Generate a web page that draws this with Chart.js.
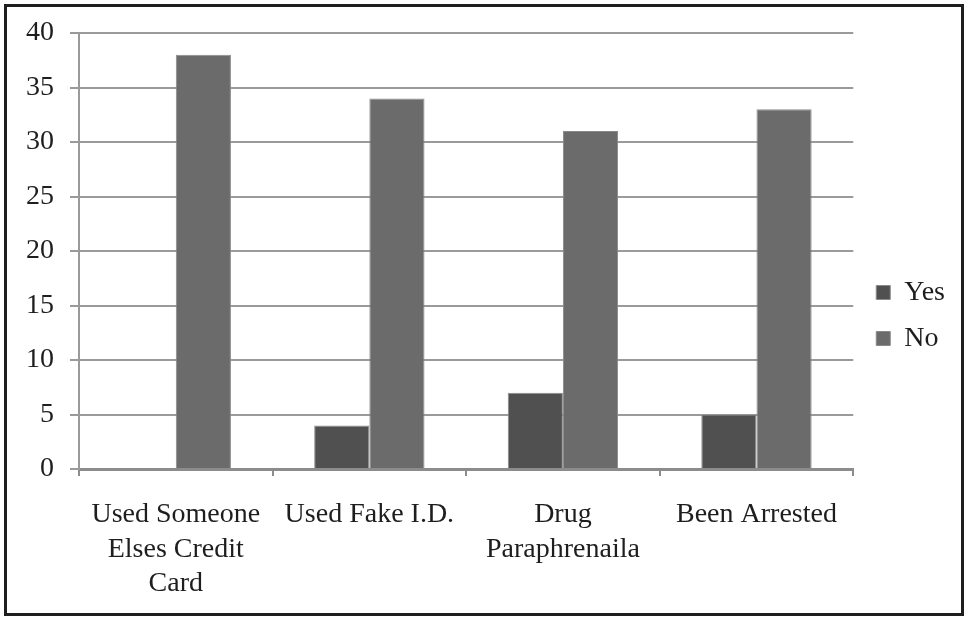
<!DOCTYPE html>
<html>
<head>
<meta charset="utf-8">
<script src="https://cdn.jsdelivr.net/npm/chart.js@4/dist/chart.umd.min.js"></script>
<style>
  html, body { margin: 0; padding: 0; background: #fff; }
  #wrap { position: relative; width: 968px; height: 618px; }
</style>
</head>
<body>
<div id="wrap"><canvas id="c" width="968" height="618"></canvas></div>
<script>
const categories = [
  ['Used Someone', 'Elses Credit', 'Card'],
  'Used Fake I.D.',
  ['Drug', 'Paraphrenaila'],
  'Been Arrested'
];
const seriesNames = ['Yes', 'No'];
const yesValues = [0, 4, 7, 5];
const noValues = [38, 34, 31, 33];
const yTicks = [0, 5, 10, 15, 20, 25, 30, 35, 40];

const serif = '"Liberation Serif", "Times New Roman", serif';

// white background and dark frame around the whole figure
const framePlugin = {
  id: 'frame',
  beforeDraw(chart) {
    const ctx = chart.ctx;
    ctx.save();
    ctx.fillStyle = '#fff';
    ctx.fillRect(0, 0, chart.width, chart.height);
    ctx.restore();
  },
  afterDraw(chart) {
    const ctx = chart.ctx;
    ctx.save();
    ctx.strokeStyle = '#1e1e1e';
    ctx.lineWidth = 3;
    ctx.strokeRect(5.5, 5.5, chart.width - 11, chart.height - 9);
    ctx.restore();
  }
};

// nudge the legend block a little to the right and up
const legendNudge = {
  id: 'legendNudge',
  afterLayout(chart) {
    const lg = chart.legend;
    if (!lg) return;
    lg.left += 5; lg.right += 5;
    lg.top -= 3; lg.bottom -= 3;
  }
};

new Chart(document.getElementById('c'), {
  type: 'bar',
  data: {
    labels: categories,
    datasets: [
      { label: seriesNames[0], data: yesValues, backgroundColor: '#505050', borderColor: '#8a8a8a', borderWidth: 1 },
      { label: seriesNames[1], data: noValues, backgroundColor: '#6b6b6b', borderColor: '#8a8a8a', borderWidth: 1 }
    ]
  },
  options: {
    responsive: false,
    animation: false,
    devicePixelRatio: 1,
    layout: { padding: { left: 8, top: 33, right: 18, bottom: 14 } },
    datasets: { bar: { categoryPercentage: 0.57, barPercentage: 1.0 } },
    plugins: {
      tooltip: { enabled: false },
      legend: {
        position: 'right',
        align: 'center',
        labels: {
          boxWidth: 14,
          boxHeight: 14,
          padding: 18,
          color: '#1e1e1e',
          font: { family: serif, size: 28 }
        }
      }
    },
    scales: {
      x: {
        offset: true,
        grid: { display: true, drawOnChartArea: false, drawTicks: true, tickLength: 7, color: '#8c8c8c', lineWidth: 2, offset: true },
        border: { display: true, color: '#8c8c8c', width: 3 },
        ticks: {
          color: '#1e1e1e',
          font: { family: serif, size: 28, lineHeight: 1.22 },
          maxRotation: 0,
          autoSkip: false,
          padding: 22
        },
        afterFit(s) { s.height = 618 - 469 - 14; }
      },
      y: {
        min: 0,
        max: 40,
        afterBuildTicks(s) { s.ticks = yTicks.map(v => ({ value: v })); },
        grid: { color: '#9a9a9a', lineWidth: 2, tickLength: 9 },
        border: { display: true, color: '#9a9a9a', width: 2 },
        ticks: {
          color: '#1e1e1e',
          font: { family: serif, size: 28 },
          padding: 16
        },
        afterFit(s) { s.width = 79 - 8; }
      }
    }
  },
  plugins: [framePlugin, legendNudge]
});
</script>
</body>
</html>
